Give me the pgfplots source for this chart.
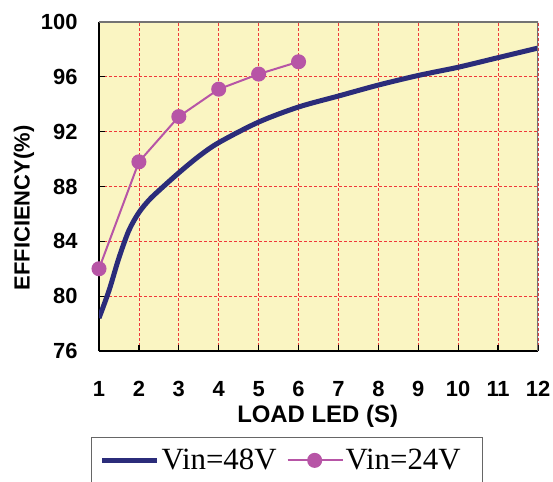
\documentclass[border=0pt]{standalone}
\usepackage{fontspec}
\setmainfont{Liberation Sans}
\newfontfamily\legfont{Liberation Serif}
\usepackage{pgfplots}
\pgfplotsset{compat=1.18}
\definecolor{bgyellow}{HTML}{FAF5C2}
\definecolor{navy}{HTML}{2B2C7A}
\definecolor{mag}{HTML}{B755A6}
\definecolor{gridred}{HTML}{F0383A}
\begin{document}
\begin{tikzpicture}
\useasboundingbox (0,0) rectangle (553bp,482bp);
\begin{axis}[
  at={(99bp,131bp)}, anchor=south west,
  scale only axis, width=439bp, height=329bp,
  xmin=1, xmax=12, ymin=76, ymax=100,
  xtick={1,...,12}, ytick={76,80,...,100},
  axis x line*=bottom, axis y line*=left,
  axis line style={black, line width=1.5bp},
  tick align=inside, major tick length=6bp,
  tick style={black, line width=1.2bp},
  axis background/.style={fill=bgyellow},
  grid=major,
  major grid style={gridred, dash pattern=on 2.5bp off 2.5bp, line width=0.7bp},
  /pgf/number format/assume math mode=true,
  ticklabel style={font=\fontsize{22}{22}\selectfont\bfseries},
  xticklabel style={yshift=-27bp},
  yticklabel style={xshift=-18bp},
  xlabel={LOAD LED (S)}, ylabel={EFFICIENCY(\%)},
  xlabel style={font=\fontsize{24}{24}\selectfont\bfseries, at={(axis description cs:0.498,-0.2)}, anchor=center},
  ylabel style={font=\fontsize{22}{22}\selectfont\bfseries, at={(axis description cs:-0.171,0.435)}, anchor=center},
  legend columns=2,
  legend style={at={(axis description cs:-0.018,-0.261)}, anchor=north west,
    draw=gray!80!black, line width=1bp, fill=white,
    font=\legfont\fontsize{31}{31}\selectfont,
    inner xsep=8bp, inner ysep=10bp,
    /tikz/every even column/.append style={column sep=8bp}},
  legend image code/.code={\draw[mark repeat=2,mark phase=2,#1] plot coordinates {(0bp,0bp)(27bp,0bp)(55bp,0bp)};},
]
\addplot[navy, line width=5bp, smooth, tension=0.5] coordinates {
 (1,78.4) (1.25,80.4) (1.5,82.8) (1.75,84.8) (2,86.1) (2.25,87.0) (2.5,87.7) (3,89.0) (3.5,90.2) (4,91.2) (5,92.7) (6,93.8) (7,94.6) (8,95.4) (9,96.1) (10,96.7) (11,97.4) (12,98.1)};
\addlegendentry{Vin=48V}
\addplot[mag, line width=2bp, mark=*, mark size=6.5bp, mark options={fill=mag, draw=mag}] coordinates {
 (1,82.0) (2,89.8) (3,93.1) (4,95.1) (5,96.2) (6,97.1)};
\addlegendentry{Vin=24V\kern12bp\null}
\draw[gray!90!black, line width=2.5bp] (rel axis cs:0,1) -- (rel axis cs:1,1) -- (rel axis cs:1,0);
\end{axis}
\end{tikzpicture}
\end{document}
